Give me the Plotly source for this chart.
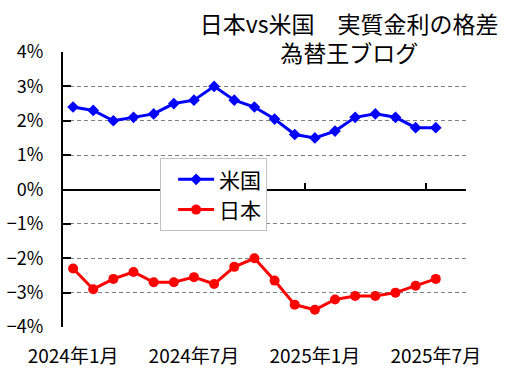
import plotly.graph_objects as go

months = ["2024年1月", "2024年2月", "2024年3月", "2024年4月", "2024年5月", "2024年6月",
          "2024年7月", "2024年8月", "2024年9月", "2024年10月", "2024年11月", "2024年12月",
          "2025年1月", "2025年2月", "2025年3月", "2025年4月", "2025年5月", "2025年6月",
          "2025年7月"]
us_real_rate = [2.4, 2.3, 2.0, 2.1, 2.2, 2.5, 2.6, 3.0, 2.6, 2.4, 2.05, 1.6, 1.5, 1.7,
                2.1, 2.2, 2.1, 1.8, 1.8]
jp_real_rate = [-2.3, -2.9, -2.6, -2.4, -2.7, -2.7, -2.55, -2.75, -2.25, -2.0, -2.65, -3.35,
                -3.5, -3.2, -3.1, -3.1, -3.0, -2.8, -2.6]
y_ticks = [4, 3, 2, 1, 0, -1, -2, -3, -4]
y_ticktext = ["4%", "3%", "2%", "1%", "0%", "\u22121%", "\u22122%", "\u22123%", "\u22124%"]

n_slots = 20
label_step = 6
x_idx = list(range(len(months)))
label_vals = x_idx[::label_step]
label_text = months[::label_step]
divider_vals = [i - 0.5 for i in range(0, n_slots, label_step)]

FONT = "Noto Sans CJK JP"

fig = go.Figure()
fig.add_trace(go.Scatter(
    x=x_idx, y=us_real_rate, name="米国", mode="lines+markers",
    line=dict(color="#0000FF", width=3),
    marker=dict(symbol="diamond", size=9, color="#0000FF"),
))
fig.add_trace(go.Scatter(
    x=x_idx, y=jp_real_rate, name="日本", mode="lines+markers",
    line=dict(color="#FF0000", width=3),
    marker=dict(symbol="circle", size=10, color="#FF0000"),
))

fig.update_layout(
    width=522, height=378,
    margin=dict(l=63, r=56, t=52, b=51, autoexpand=False),
    paper_bgcolor="white", plot_bgcolor="white",
    font=dict(family=FONT, color="black", size=17),
    title=dict(
        text="日本vs米国\u3000実質金利の格差<br>為替王ブログ",
        x=0.669, xanchor="center", xref="container",
        y=0.914, yanchor="middle", yref="container",
        font=dict(family=FONT, size=23, color="black"),
    ),
    showlegend=True,
    legend=dict(
        x=0.241, xanchor="left", y=0.614, yanchor="top",
        bgcolor="white", bordercolor="#c0c0c0", borderwidth=1,
        font=dict(family=FONT, size=21, color="black"),
        tracegroupgap=0, itemwidth=36, indentation=12,
    ),
    xaxis=dict(
        range=[-0.5, n_slots - 0.5], automargin=False,
        tickmode="array", tickvals=label_vals, ticktext=label_text,
        showline=False, showgrid=False, zeroline=False, ticks="",
        tickfont=dict(family=FONT, size=19, color="black"),
        ticklabelstandoff=16,
    ),
    xaxis2=dict(
        overlaying="x", anchor="free", position=0.5, side="bottom",
        range=[-0.5, n_slots - 0.5], automargin=False,
        tickmode="array", tickvals=divider_vals,
        showticklabels=False, showline=True, linecolor="black", linewidth=2,
        ticks="inside", ticklen=6, tickwidth=2, tickcolor="black",
        showgrid=False, zeroline=False,
    ),
    yaxis=dict(
        range=[-4, 4], automargin=False,
        tickmode="array", tickvals=y_ticks, ticktext=y_ticktext,
        showline=True, linecolor="black", linewidth=2,
        ticks="inside", ticklen=8, tickwidth=2, tickcolor="black",
        showgrid=True, gridcolor="#808080", gridwidth=1, griddash="4px,3px",
        zeroline=False,
        tickfont=dict(family=FONT, size=18, color="black"),
        ticklabelstandoff=14,
    ),
)

# invisible helper trace so the overlay axis (zero line with dividers) is rendered
fig.add_trace(go.Scatter(x=[], y=[], xaxis="x2", yaxis="y", showlegend=False, hoverinfo="skip"))

fig.write_html("out.html", config={"displayModeBar": False},
               post_script="document.body.style.margin='0';")
